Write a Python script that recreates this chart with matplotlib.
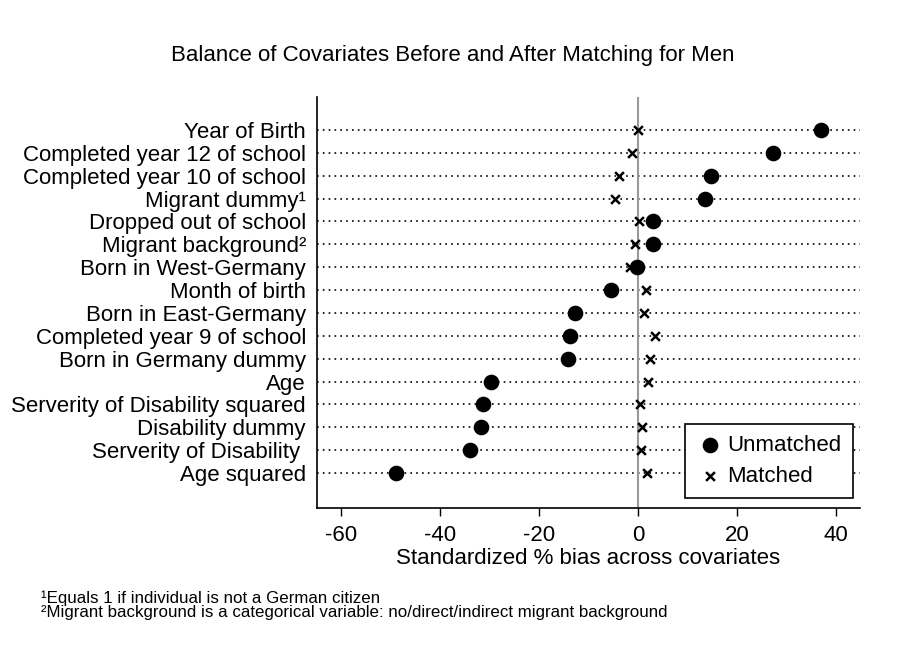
import matplotlib
matplotlib.use("Agg")
import matplotlib.pyplot as plt

plt.rcParams['font.family'] = ['Liberation Sans', 'DejaVu Sans']

covariates = [
    "Year of Birth",
    "Completed year 12 of school",
    "Completed year 10 of school",
    "Migrant dummy\u00b9",
    "Dropped out of school",
    "Migrant background\u00b2",
    "Born in West-Germany",
    "Month of birth",
    "Born in East-Germany",
    "Completed year 9 of school",
    "Born in Germany dummy",
    "Age",
    "Serverity of Disability squared",
    "Disability dummy",
    "Serverity of Disability ",
    "Age squared",
]
unmatched = [36.9, 27.2, 14.8, 13.5, 3.1, 3.1, -0.2, -5.4, -12.6, -13.8, -14.2,
             -29.7, -31.3, -31.7, -34.0, -48.9]
matched = [0.0, -1.1, -3.9, -4.7, 0.3, -0.5, -1.5, 1.6, 1.2, 3.4, 2.4,
           2.1, 0.5, 0.8, 0.6, 1.9]
xticks = [-60, -40, -20, 0, 20, 40]

fig = plt.figure(figsize=(9.04, 6.63), dpi=100)
ax = fig.add_axes([0.3507, 0.2338, 0.6003, 0.6199])

ypos = list(range(len(covariates)))
for y in ypos:
    ax.axhline(y, color='black', linestyle=(0, (1, 2.5)), linewidth=1.2, zorder=1)
ax.axvline(0, color='#999999', linewidth=1.5, zorder=2)

ax.scatter(unmatched, ypos, s=105, color='black', marker='o', zorder=3, label='Unmatched')
ax.scatter(matched, ypos, s=40, color='black', marker='x', linewidths=1.8, zorder=4, label='Matched')

ax.set_xlim(-64.8, 44.8)
ax.set_ylim(len(covariates) - 1 + 1.53, -1.44)
ax.set_yticks(ypos)
ax.set_yticklabels(covariates, fontsize=16)
ax.tick_params(axis='y', length=0, pad=8)
ax.set_xticks(xticks)
ax.set_xticklabels([str(t) for t in xticks], fontsize=16)
ax.tick_params(axis='x', length=6, width=1, pad=6)
ax.spines['top'].set_visible(False)
ax.spines['right'].set_visible(False)
ax.spines['left'].set_linewidth(1.2)
ax.spines['bottom'].set_linewidth(1.2)
ax.set_xlabel("Standardized % bias across covariates", fontsize=16, labelpad=2)

leg = ax.legend(loc='lower right', fontsize=16, frameon=True, fancybox=False,
                edgecolor='black', framealpha=1, borderpad=0.5, handletextpad=0.2,
                labelspacing=0.45, handlelength=1.2, borderaxespad=0,
                bbox_to_anchor=(0.987, 0.024), scatterpoints=1)
leg.get_frame().set_linewidth(1.2)

fig.text(0.501, 0.917, "Balance of Covariates Before and After Matching for Men",
         ha='center', va='center', fontsize=16)
fig.text(0.045, 0.098, "\u00b9Equals 1 if individual is not a German citizen", fontsize=12.2, va='center')
fig.text(0.045, 0.0755, "\u00b2Migrant background is a categorical variable: no/direct/indirect migrant background",
         fontsize=12.2, va='center')

fig.savefig("out.png", dpi=100)
